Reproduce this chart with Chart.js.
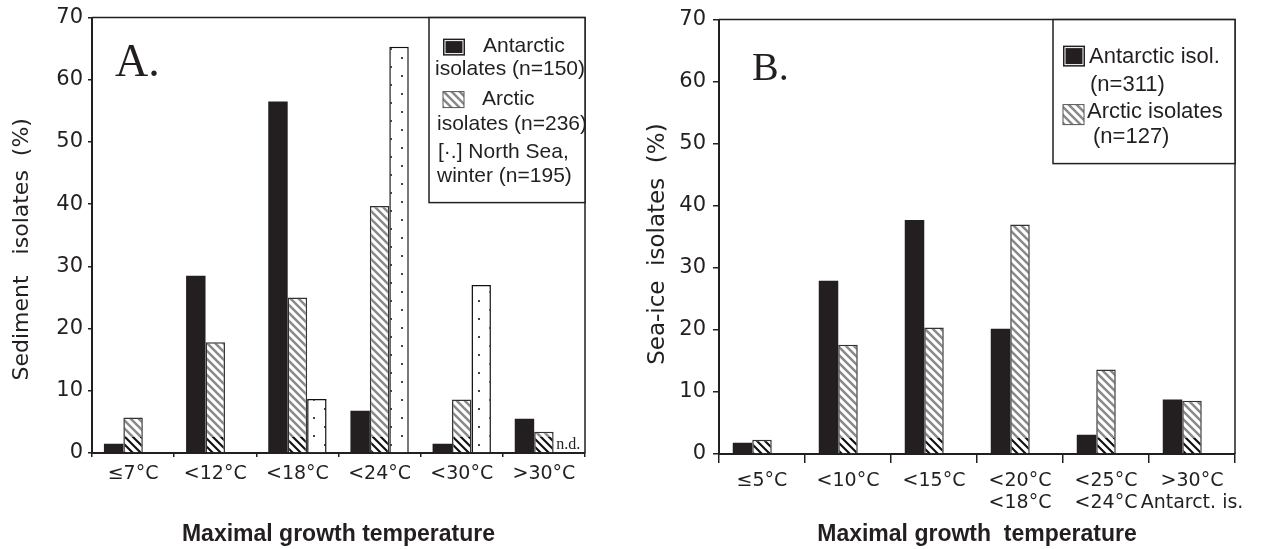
<!DOCTYPE html>
<html>
<head>
<meta charset="utf-8">
<script src="https://cdn.jsdelivr.net/npm/chart.js@4/dist/chart.umd.min.js"></script>
<style>
    body { margin: 0; background: #ffffff; }
    #panel_a { position: absolute; left: 0; top: 0; width: 620px; height: 549px; }
    #panel_b { position: absolute; left: 636px; top: 0; width: 630px; height: 549px; }
</style>
</head>
<body>
<div id="panel_a"><canvas id="grafico_a"></canvas></div>
<div id="panel_b"><canvas id="grafico_b"></canvas></div>
<script>
// A. sediment isolates (%)
const tempsA = ['≤7°C', '<12°C', '<18°C', '<24°C', '<30°C', '>30°C'];
const antarcticA = [1.5, 28.5, 56.5, 6.8, 1.5, 5.5];
const arcticA = [5.7, 17.8, 25.0, 39.7, 8.6, 3.4];
const northSeaA = [0, 0, 8.7, 65.3, 27.0, null];   // >30°C: n.d.

// B. sea-ice isolates (%)
const tempsB = ['≤5°C', '<10°C', '<15°C', ['<20°C', '<18°C'], ['<25°C', '<24°C'], ['>30°C', 'Antarct. is.']];
const antarcticB = [1.8, 27.9, 37.7, 20.2, 3.1, 8.8];
const arcticB = [2.3, 17.6, 20.4, 37.0, 13.6, 8.6];
const emptyB = [null, null, null, null, null, null];  // third slot left blank in the original

const yTicks = [0, 10, 20, 30, 40, 50, 60, 70];

const INK = '#231f20';
const patterns = {};

// grey "\\\" hatching, darker band at the foot of the bars like the scan
function hatchFill(chart) {
    const key = 'h' + chart.id;
    if (patterns[key]) return patterns[key];
    if (!chart.chartArea) return '#8a8a8a';
    const bottom = chart.chartArea.bottom;
    const h = chart.height;
    const c = document.createElement('canvas');
    c.width = 8; c.height = h;
    const g = c.getContext('2d');
    g.fillStyle = '#fff';
    g.fillRect(0, 0, 8, h);
    g.strokeStyle = '#8a8a8a';
    g.lineWidth = 2.6;
    g.beginPath();
    for (let k = -8; k < h + 8; k += 8) { g.moveTo(-1, k - 1); g.lineTo(9, k + 9); }
    g.stroke();
    g.save();
    g.beginPath(); g.rect(0, bottom - 16, 8, 16); g.clip();
    g.fillStyle = '#fff';
    g.fillRect(0, bottom - 16, 8, 16);
    g.strokeStyle = '#111';
    g.lineWidth = 2.2;
    g.beginPath();
    for (let k = -8; k < h + 8; k += 8) { g.moveTo(-1, k - 1); g.lineTo(9, k + 9); }
    g.stroke();
    g.restore();
    patterns[key] = chart.ctx.createPattern(c, 'repeat');
    return patterns[key];
}

// sparse dots on white
function dotFill(chart) {
    const key = 'd' + chart.id;
    if (patterns[key]) return patterns[key];
    const c = document.createElement('canvas');
    c.width = 22; c.height = 18;
    const g = c.getContext('2d');
    g.fillStyle = '#fff';
    g.fillRect(0, 0, 22, 18);
    g.fillStyle = '#444';
    g.fillRect(5, 3, 2, 2);
    g.fillRect(16, 12, 2, 2);
    patterns[key] = chart.ctx.createPattern(c, 'repeat');
    return patterns[key];
}

const framePlugin = {
    id: 'frame',
    afterDatasetsDraw(chart) {
        const a = chart.chartArea, ctx = chart.ctx;
        ctx.save();
        ctx.strokeStyle = INK;
        ctx.lineWidth = 1.5;
        ctx.beginPath();
        ctx.moveTo(a.left, a.top);
        ctx.lineTo(a.right, a.top);
        ctx.lineTo(a.right, a.bottom);
        ctx.stroke();
        ctx.restore();
    }
};

function swatchSolid(ctx, x, y, w, h) {
    ctx.fillStyle = INK;
    ctx.fillRect(x, y, w, h);
    ctx.strokeStyle = '#fff';
    ctx.lineWidth = 1;
    ctx.strokeRect(x + 2, y + 2, w - 4, h - 4);
}

function swatchHatch(ctx, chart, x, y, w, h) {
    ctx.fillStyle = hatchFill(chart);
    ctx.fillRect(x, y, w, h);
    ctx.strokeStyle = '#555';
    ctx.lineWidth = 1;
    ctx.strokeRect(x, y, w, h);
}

const legendA = {
    id: 'legendA',
    afterDraw(chart) {
        const ctx = chart.ctx, a = chart.chartArea;
        const x0 = a.right - 156, y0 = a.top;
        ctx.save();
        ctx.fillStyle = '#fff';
        ctx.fillRect(x0, y0, 156, 185);
        ctx.strokeStyle = INK;
        ctx.lineWidth = 1.5;
        ctx.strokeRect(x0, y0, 156, 185);
        swatchSolid(ctx, x0 + 14, y0 + 21, 22, 17);
        swatchHatch(ctx, chart, x0 + 14, y0 + 74, 21, 16);
        ctx.fillStyle = INK;
        ctx.font = '21px "Liberation Sans"';
        ctx.textBaseline = 'middle';
        ctx.fillText('Antarctic', x0 + 54, y0 + 29);
        ctx.fillText('isolates (n=150)', x0 + 6, y0 + 52);
        ctx.fillText('Arctic', x0 + 53, y0 + 82);
        ctx.fillText('isolates (n=236)', x0 + 8, y0 + 107);
        ctx.fillText('[·.] North Sea,', x0 + 9, y0 + 135);
        ctx.fillText('winter (n=195)', x0 + 8, y0 + 159);
        // panel letter
        ctx.font = '46px "Liberation Serif"';
        ctx.textBaseline = 'alphabetic';
        ctx.fillText('A.', 115, 76);
        // not determined
        const el = chart.getDatasetMeta(2).data[5];
        ctx.font = '16px "Liberation Serif"';
        ctx.fillText('n.d.', el.x - 7, a.bottom - 4);
        ctx.restore();
    }
};

const legendB = {
    id: 'legendB',
    afterDraw(chart) {
        const ctx = chart.ctx, a = chart.chartArea;
        const x0 = a.right - 182, y0 = a.top;
        ctx.save();
        ctx.fillStyle = '#fff';
        ctx.fillRect(x0, y0, 182, 144);
        ctx.strokeStyle = INK;
        ctx.lineWidth = 1.5;
        ctx.strokeRect(x0, y0, 182, 144);
        swatchSolid(ctx, x0 + 10, y0 + 26, 22, 21);
        swatchHatch(ctx, chart, x0 + 10, y0 + 85, 21, 20);
        ctx.fillStyle = INK;
        ctx.font = '22px "Liberation Sans"';
        ctx.textBaseline = 'middle';
        ctx.fillText('Antarctic isol.', x0 + 36, y0 + 37);
        ctx.fillText('(n=311)', x0 + 37, y0 + 65);
        ctx.fillText('Arctic isolates', x0 + 34, y0 + 92);
        ctx.fillText('(n=127)', x0 + 40, y0 + 117);
        ctx.font = '40px "Liberation Serif"';
        ctx.textBaseline = 'alphabetic';
        ctx.fillText('B.', 116, 80);
        ctx.restore();
    }
};

function xScale(title, tickLen, pad, lineHeight, height) {
    return {
        border: { color: INK, width: 2 },
        grid: { drawOnChartArea: false, tickLength: tickLen, color: INK, lineWidth: 1.5, offset: true },
        ticks: {
            color: INK, padding: pad, maxRotation: 0, autoSkip: false,
            font: { family: 'DejaVu Sans', size: 19, lineHeight: lineHeight }
        },
        title: {
            display: true, text: title, color: INK,
            font: { family: 'Liberation Sans', size: 23, weight: 'bold' },
            padding: { top: 0, bottom: 1 }
        },
        afterFit: s => { s.height = height; }
    };
}

function yScale(title, titleSize, titlePad, tickLen, pad, width) {
    return {
        min: 0, max: 70,
        border: { color: INK, width: 2 },
        grid: { drawOnChartArea: false, tickLength: tickLen, color: INK, lineWidth: 1.5 },
        ticks: { color: INK, padding: pad, font: { family: 'DejaVu Sans', size: 21 } },
        afterBuildTicks: s => { s.ticks = yTicks.map(v => ({ value: v })); },
        title: {
            display: true, text: title, color: INK,
            font: { family: 'DejaVu Sans', size: titleSize },
            padding: { top: titlePad, bottom: 0 }
        },
        afterFit: s => { s.width = width; }
    };
}

document.addEventListener('DOMContentLoaded', function () {
    const grafico_a = document.getElementById('grafico_a').getContext('2d');
    new Chart(grafico_a, {
        type: 'bar',
        data: {
            labels: tempsA,
            datasets: [{
                label: 'Antarctic isolates (n=150)',
                data: antarcticA,
                backgroundColor: INK,
                borderWidth: 0
            },
            {
                label: 'Arctic isolates (n=236)',
                data: arcticA,
                backgroundColor: c => hatchFill(c.chart),
                borderColor: '#333',
                borderWidth: 1.5
            },
            {
                label: 'North Sea, winter (n=195)',
                data: northSeaA,
                backgroundColor: c => dotFill(c.chart),
                borderColor: '#111',
                borderWidth: 1.5
            }]
        },
        options: {
            responsive: true,
            maintainAspectRatio: false,
            animation: false,
            layout: { padding: { left: 0, top: 16, right: 35, bottom: 0 } },
            datasets: { bar: { categoryPercentage: 0.71, barPercentage: 1 } },
            plugins: { legend: { display: false }, tooltip: { enabled: false } },
            scales: {
                x: xScale('Maximal growth temperature', 4, 6, 1.2, 96),
                // trailing blanks push the rotated title a little lower, as in the original
                y: yScale('Sediment   isolates  (%)    ', 22, 9, 4, 5, 92)
            }
        },
        plugins: [framePlugin, legendA]
    });

    const grafico_b = document.getElementById('grafico_b').getContext('2d');
    new Chart(grafico_b, {
        type: 'bar',
        data: {
            labels: tempsB,
            datasets: [{
                label: 'Antarctic isol. (n=311)',
                data: antarcticB,
                backgroundColor: INK,
                borderWidth: 0
            },
            {
                label: 'Arctic isolates (n=127)',
                data: arcticB,
                backgroundColor: c => hatchFill(c.chart),
                borderColor: '#333',
                borderWidth: 1.5
            },
            {
                label: '',
                data: emptyB
            }]
        },
        options: {
            responsive: true,
            maintainAspectRatio: false,
            animation: false,
            layout: { padding: { left: 0, top: 18, right: 31, bottom: 0 } },
            datasets: { bar: { categoryPercentage: 0.68, barPercentage: 1 } },
            plugins: { legend: { display: false }, tooltip: { enabled: false } },
            scales: {
                x: xScale('Maximal growth  temperature', 9, 7.5, 1.15, 95),
                y: yScale('Sea-ice  isolates  (%)  ', 23, 8, 6, 7, 83)
            }
        },
        plugins: [framePlugin, legendB]
    });
});
</script>
</body>
</html>
